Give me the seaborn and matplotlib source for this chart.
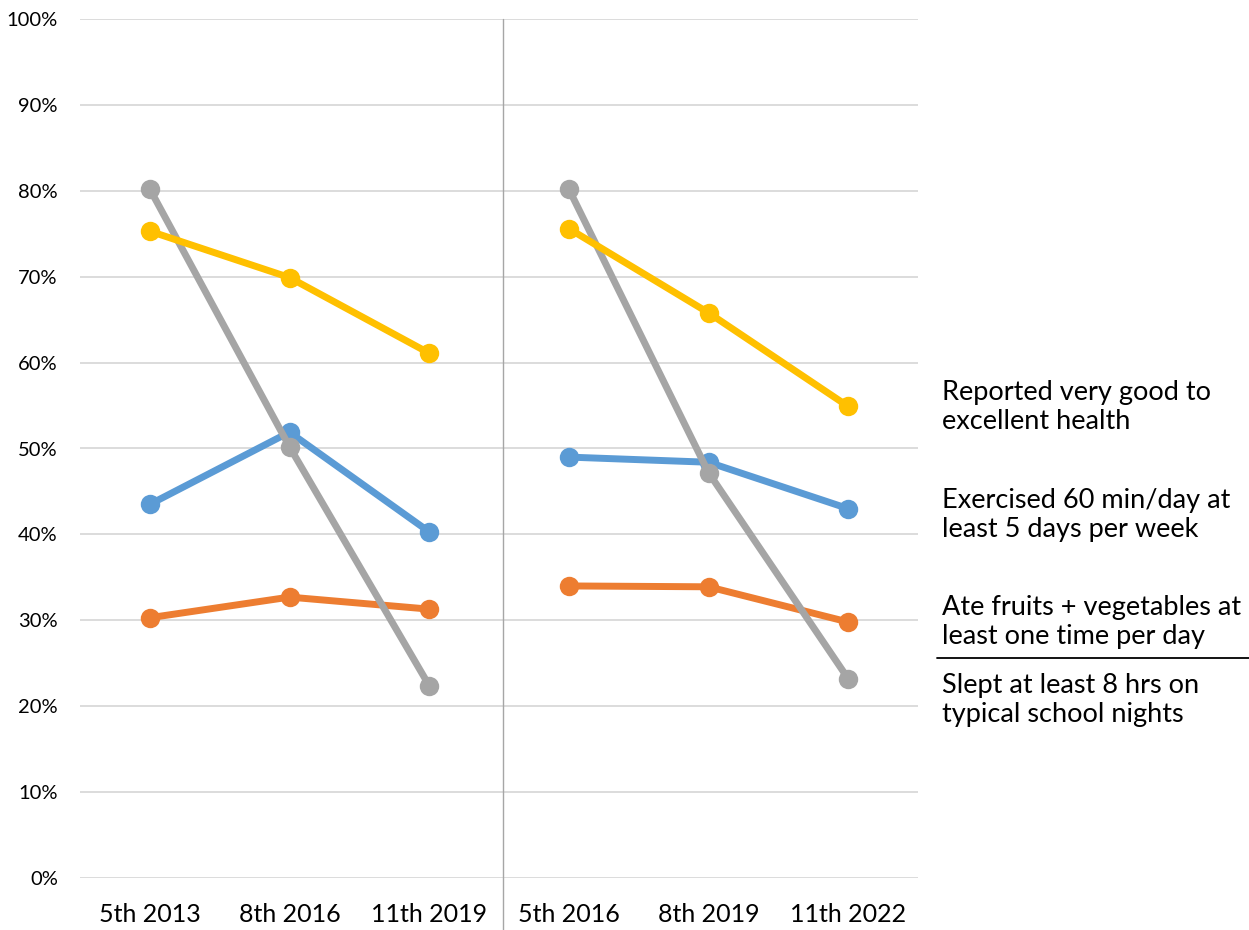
import matplotlib
matplotlib.use("Agg")
import matplotlib.pyplot as plt
import seaborn as sns
import pandas as pd
from matplotlib.lines import Line2D
from matplotlib.ticker import FuncFormatter

# Grade/year categories for the two cohorts
cohort_a = ["5th 2013", "8th 2016", "11th 2019"]
cohort_b = ["5th 2016", "8th 2019", "11th 2022"]

# Percent of students, per cohort
exercise_a = [43.5, 51.9, 40.3]
exercise_b = [49.0, 48.4, 43.0]
fruitveg_a = [30.3, 32.7, 31.3]
fruitveg_b = [34.0, 33.9, 29.8]
sleep_a = [80.2, 50.2, 22.4]
sleep_b = [80.2, 47.2, 23.2]
health_a = [75.3, 69.9, 61.1]
health_b = [75.6, 65.8, 54.9]

series_names = ["Exercise", "Fruit/veg", "Sleep", "Health"]
series_colors = ["#5B9BD5", "#ED7D31", "#A5A5A5", "#FFC000"]

legend_labels = [
    "Reported very good to\nexcellent health",
    "Exercised 60 min/day at\nleast 5 days per week",
    "Ate fruits + vegetables at\nleast one time per day",
    "Slept at least 8 hrs on\ntypical school nights",
]

categories = cohort_a + cohort_b
values_a = [exercise_a, fruitveg_a, sleep_a, health_a]
values_b = [exercise_b, fruitveg_b, sleep_b, health_b]

rows = []
for name, va, vb in zip(series_names, values_a, values_b):
    for i, v in enumerate(va):
        rows.append({"series": name, "cohort": "A", "pos": i, "value": v})
    for i, v in enumerate(vb):
        rows.append({"series": name, "cohort": "B", "pos": i + len(cohort_a), "value": v})
df = pd.DataFrame(rows)

sns.set_theme(style="white")
plt.rcParams["font.family"] = ["Lato", "DejaVu Sans"]

fig = plt.figure(figsize=(12.49, 9.30), dpi=100)
ax = fig.add_axes([80 / 1249, 1 - 878 / 930, (918 - 80) / 1249, (878 - 19) / 930])

palette = dict(zip(series_names, series_colors))
for name in series_names:
    sub = df[df["series"] == name]
    sns.lineplot(data=sub, x="pos", y="value", units="cohort", estimator=None,
                 color=palette[name], linewidth=5, marker="o", markersize=14,
                 markeredgewidth=0, ax=ax, legend=False, zorder=3)

ax.set_xlim(-0.5, len(categories) - 0.5)
ax.set_ylim(0, 100)
ax.set_yticks(range(0, 101, 10))
ax.yaxis.set_major_formatter(FuncFormatter(lambda v, _: f"{v:.0f}%"))
ax.set_xticks(range(len(categories)))
ax.set_xticklabels(categories)
ax.set_xlabel("")
ax.set_ylabel("")
ax.grid(axis="y", color="#D9D9D9", linewidth=1.3)
ax.grid(axis="x", visible=False)
for s in ax.spines.values():
    s.set_visible(False)
ax.tick_params(axis="y", length=0, pad=16, labelsize=14.5, labelcolor="black")
ax.tick_params(axis="x", length=0, pad=18, labelsize=18, labelcolor="black")

# Divider between the two cohorts
ax.axvline(len(cohort_a) - 0.47, ymin=-0.061, ymax=1.0, color="#A6A6A6",
           linewidth=1, clip_on=False, zorder=1)

# Series descriptions at the right
block_centers = [407, 515, 622, 700]
for label, yc in zip(legend_labels, block_centers):
    fig.text(942 / 1249, 1 - yc / 930, label, ha="left", va="center",
             fontsize=19.5, color="black", linespacing=1.2)

fig.add_artist(Line2D([937 / 1249, 1.0], [1 - 657.5 / 930, 1 - 657.5 / 930],
                      color="black", linewidth=1.3, transform=fig.transFigure))

fig.savefig("out.png", dpi=100)
